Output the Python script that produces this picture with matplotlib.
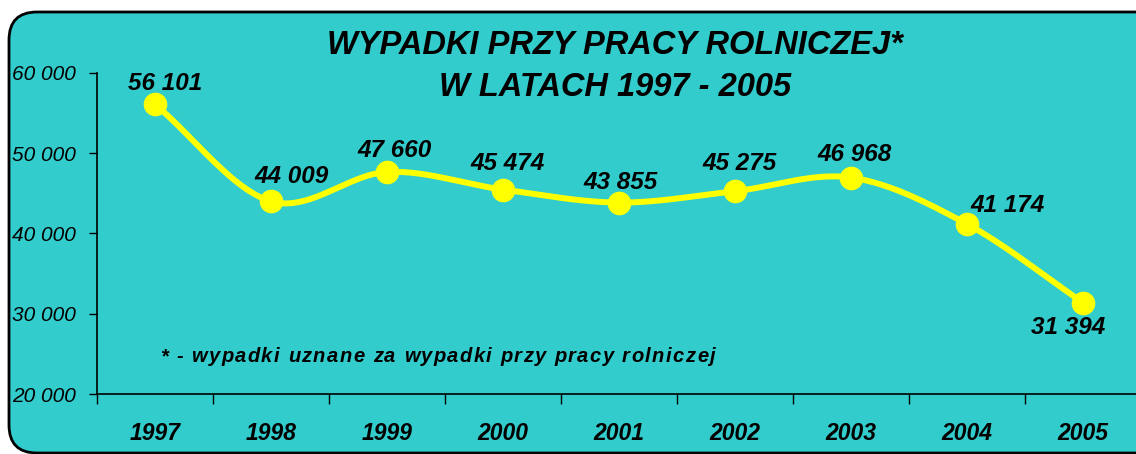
import numpy as np
import matplotlib
matplotlib.use("Agg")
import matplotlib.pyplot as plt
from matplotlib.patches import FancyBboxPatch
from matplotlib.font_manager import FontProperties
from matplotlib.transforms import IdentityTransform

# data
years = ["1997", "1998", "1999", "2000", "2001", "2002", "2003", "2004", "2005"]
accidents = [56101, 44009, 47660, 45474, 43855, 45275, 46968, 41174, 31394]
y_ticks = [20000, 30000, 40000, 50000, 60000]

title_lines = ["WYPADKI PRZY PRACY ROLNICZEJ*", "W LATACH 1997 - 2005"]
note = "* - wypadki uznane za wypadki przy pracy rolniczej"

teal = "#33CCCC"
yellow = "#FFFF00"
font = ["Liberation Sans", "DejaVu Sans"]


def fmt(v):
    return f"{v:,}".replace(",", " ")


# Catmull-Rom smoothing, similar to Excel's smoothed line
def smooth(xs, ys, n=30):
    xs = np.asarray(xs, float)
    ys = np.asarray(ys, float)
    px = np.concatenate([[2 * xs[0] - xs[1]], xs, [2 * xs[-1] - xs[-2]]])
    py = np.concatenate([[2 * ys[0] - ys[1]], ys, [2 * ys[-1] - ys[-2]]])
    t = np.linspace(0, 1, n)
    out_x, out_y = [], []
    for i in range(1, len(px) - 2):
        for p, out in ((px, out_x), (py, out_y)):
            p0, p1, p2, p3 = p[i - 1], p[i], p[i + 1], p[i + 2]
            out.extend(0.5 * (2 * p1 + (-p0 + p2) * t
                              + (2 * p0 - 5 * p1 + 4 * p2 - p3) * t ** 2
                              + (-p0 + 3 * p1 - 3 * p2 + p3) * t ** 3))
    return np.array(out_x), np.array(out_y)


W, H = 1136, 454
fig = plt.figure(figsize=(W / 100, H / 100), dpi=100)
fig.patch.set_facecolor("white")
renderer = fig.canvas.get_renderer()


# text with extra letter spacing, x/y in pixels from top-left
def spaced_text(x, y, s, size, spacing, weight="bold", style="italic"):
    prop = FontProperties(family=font, size=size, weight=weight, style=style)
    cur = x
    for c in s:
        w = renderer.get_text_width_height_descent(c, prop, ismath=False)[0]
        fig.text(cur, H - y, c, transform=IdentityTransform(), fontproperties=prop,
                 ha="left", va="center", zorder=6)
        cur += w + spacing


# background panel in pixel coords
bg = fig.add_axes([0, 0, 1, 1])
bg.set_xlim(0, W)
bg.set_ylim(H, 0)
bg.axis("off")
bg.add_patch(FancyBboxPatch((9, 12), 1160, 441, boxstyle="round,pad=0,rounding_size=28",
                            facecolor=teal, edgecolor="black", linewidth=2))

left, right, top, bottom = 97, 1141, 73, 394
ax = fig.add_axes([left / W, (H - bottom) / H, (right - left) / W, (bottom - top) / H])
ax.patch.set_alpha(0)
ax.set_xlim(-0.5, len(years) - 0.5)
ax.set_ylim(20000, 60000)

x = np.arange(len(years))
sx, sy = smooth(x, accidents)
ax.plot(sx, sy, color=yellow, lw=4.3, solid_capstyle="round", zorder=3)
ax.plot(x, accidents, "o", color=yellow, ms=16, zorder=4)

ax.set_yticks(y_ticks)
ax.set_yticklabels([fmt(v) for v in y_ticks], fontsize=15, fontstyle="italic", family=font)
ax.set_xticks(x)
ax.set_xticklabels(years, fontsize=16.5, fontweight="bold", fontstyle="italic", family=font)
ax.set_xticks(np.arange(len(years) + 1) - 0.5, minor=True)
ax.tick_params(axis="x", which="major", length=0, pad=20)
ax.tick_params(axis="x", which="minor", length=7, width=1)
ax.tick_params(axis="y", length=6, width=1, pad=9)
for s in ("top", "right"):
    ax.spines[s].set_visible(False)
for s in ("left", "bottom"):
    ax.spines[s].set_linewidth(1.2)

# data labels: offsets in pixels (right, up) from each point
offsets = [(10, 21), (21, 25), (8, 22), (5, 26), (2, 20), (5, 28), (4, 23), (41, 19), (-15, -25)]
for xi, v, (dx, dy) in zip(x, accidents, offsets):
    ax.annotate(fmt(v), (xi, v), xytext=(dx * 0.72, dy * 0.72), textcoords="offset points",
                ha="center", va="center", fontsize=17.5, fontweight="bold",
                fontstyle="italic", family=font, zorder=5)

for yy, line in zip([45, 87], title_lines):
    fig.text(615 / W, 1 - yy / H, line, ha="center", va="center", fontsize=23.5,
             fontweight="bold", fontstyle="italic", family=font)

spaced_text(160, 357, note, 14.5, 1.4)

fig.savefig("out.png", dpi=100)
